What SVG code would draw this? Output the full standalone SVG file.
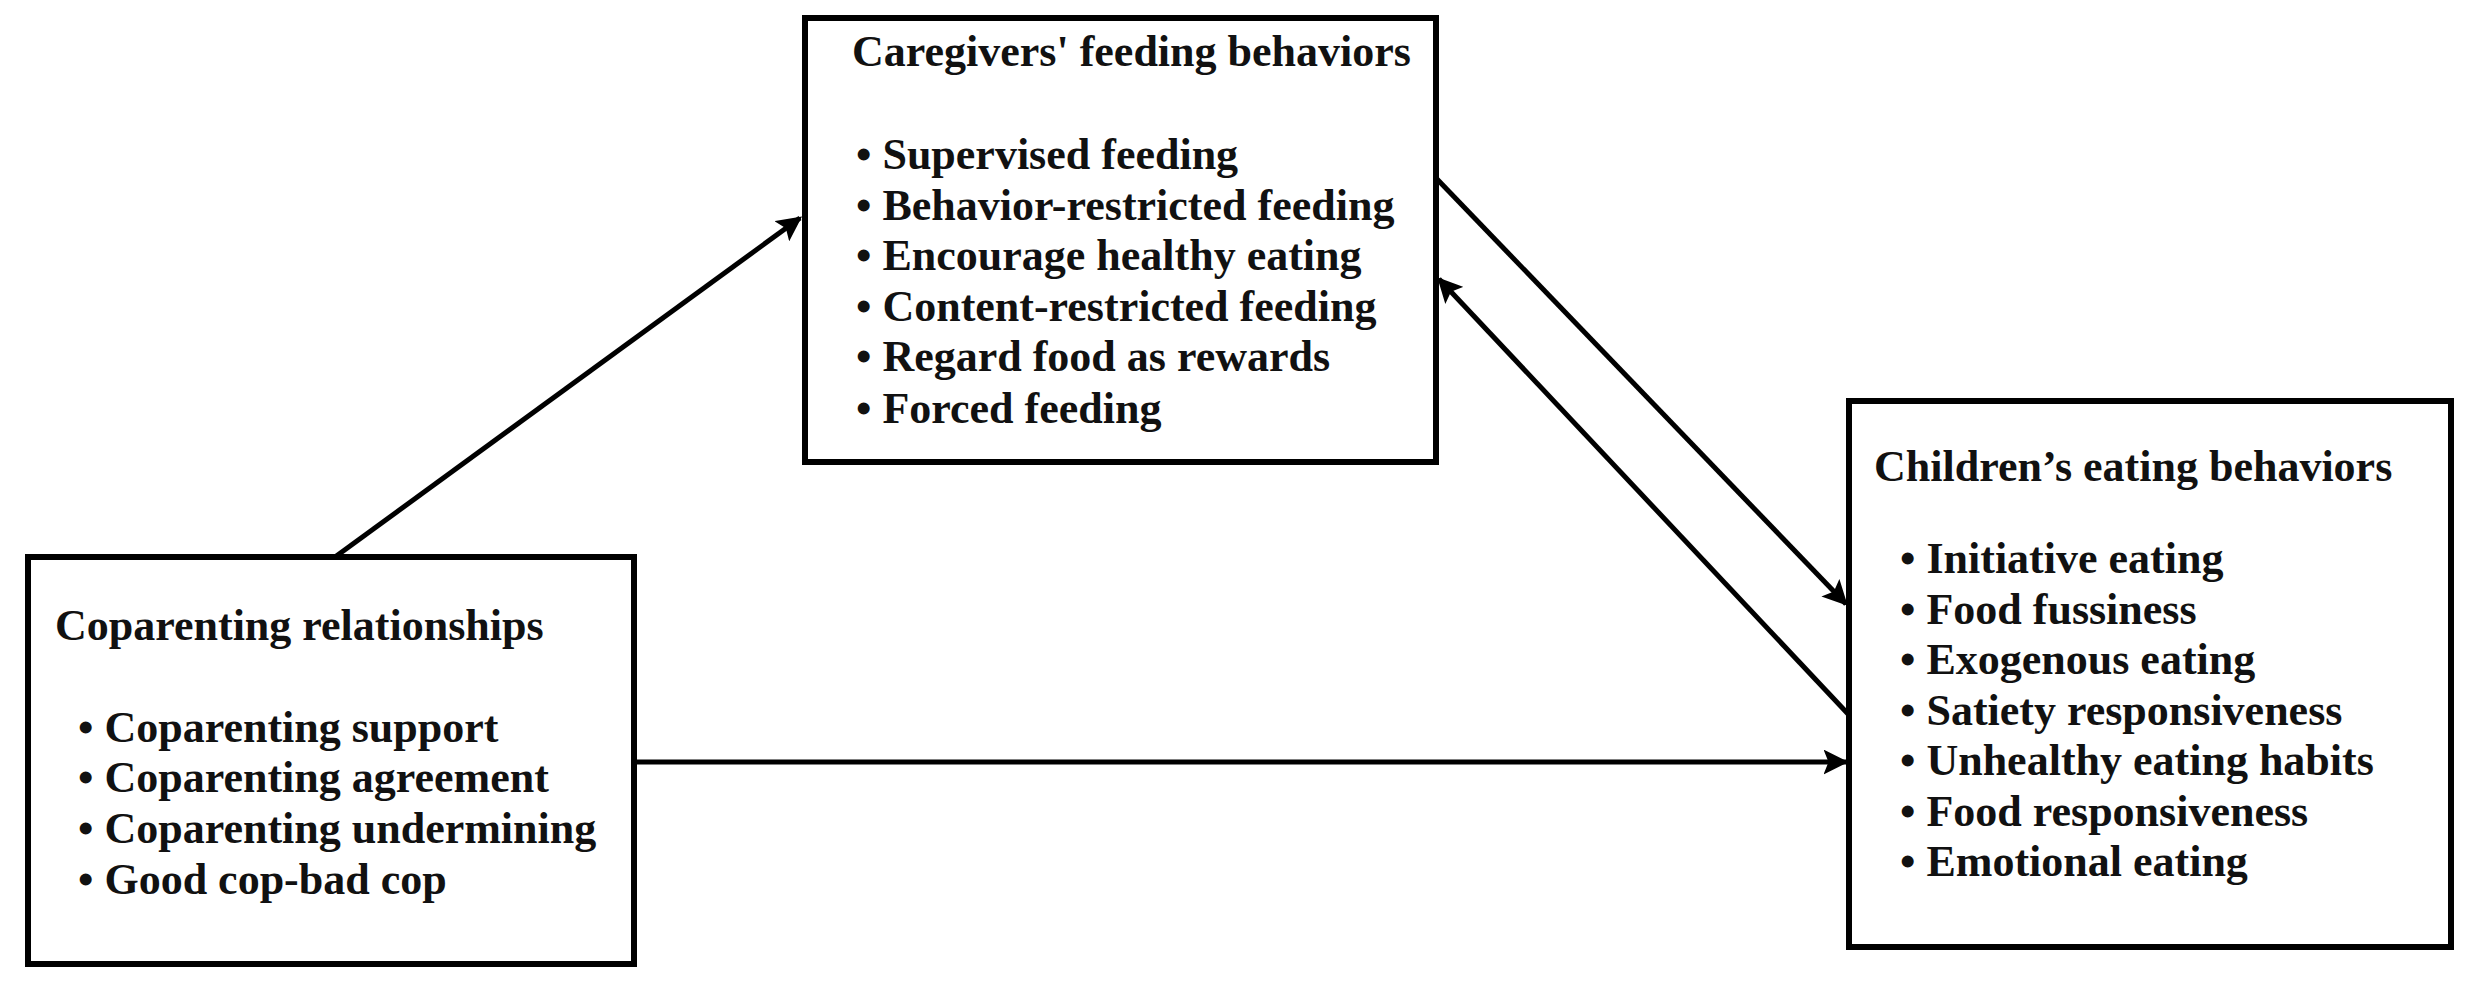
<svg xmlns="http://www.w3.org/2000/svg" width="2474" height="993" viewBox="0 0 2474 993">
<style>
.box{fill:#fff;stroke:#000;stroke-width:6}
text{font-family:"Liberation Serif","Times New Roman",serif;font-weight:bold;font-size:44px;fill:#111}
.c{stroke:#000;stroke-width:5;fill:none;marker-end:url(#ah)}
</style>
<defs><marker id="ah" viewBox="0 0 10 10" refX="9" refY="5" markerWidth="5" markerHeight="5" orient="auto" markerUnits="strokeWidth"><path d="M0,0L10,5L0,10L2,5z" fill="#000"/></marker></defs>
<rect width="2474" height="993" fill="#fff"/>
<g id="connectors">
<line class="c" x1="335" y1="557" x2="800" y2="218"/>
<line class="c" x1="1436" y1="178" x2="1846" y2="604"/>
<line class="c" x1="1849" y1="715" x2="1439" y2="279"/>
<line class="c" x1="634" y1="762" x2="1846" y2="762"/>
</g>
<g id="caregivers">
<rect class="box" x="805" y="18" width="631" height="444"/>
<text x="852" y="66">Caregivers' feeding behaviors</text>
<text x="856" y="169">• Supervised feeding</text>
<text x="856" y="220">• Behavior-restricted feeding</text>
<text x="856" y="270">• Encourage healthy eating</text>
<text x="856" y="321">• Content-restricted feeding</text>
<text x="856" y="371">• Regard food as rewards</text>
<text x="856" y="423">• Forced feeding</text>
</g>
<g id="coparenting">
<rect class="box" x="28" y="557" width="606" height="407"/>
<text x="55" y="640">Coparenting relationships</text>
<text x="78" y="742">• Coparenting support</text>
<text x="78" y="792">• Coparenting agreement</text>
<text x="78" y="843">• Coparenting undermining</text>
<text x="78" y="894">• Good cop-bad cop</text>
</g>
<g id="children">
<rect class="box" x="1849" y="401" width="602" height="546"/>
<text x="1874" y="481">Children’s eating behaviors</text>
<text x="1900" y="573">• Initiative eating</text>
<text x="1900" y="624">• Food fussiness</text>
<text x="1900" y="674">• Exogenous eating</text>
<text x="1900" y="725">• Satiety responsiveness</text>
<text x="1900" y="775">• Unhealthy eating habits</text>
<text x="1900" y="826">• Food responsiveness</text>
<text x="1900" y="876">• Emotional eating</text>
</g>
</svg>
